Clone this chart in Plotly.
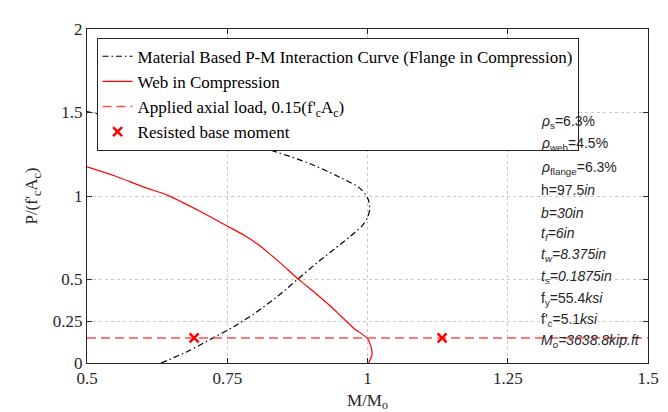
import plotly.graph_objects as go

# Material Based P-M interaction curve (flange in compression)
pm_m = [0.632, 0.68, 0.72, 0.76, 0.80, 0.84, 0.875, 0.91, 0.94, 0.97, 0.99, 1.0, 1.004, 1.0, 0.985, 0.952, 0.90, 0.834, 0.75, 0.70, 0.60, 0.5]
pm_p = [0.0, 0.07, 0.142, 0.215, 0.30, 0.40, 0.50, 0.60, 0.68, 0.76, 0.82, 0.87, 0.93, 0.99, 1.05, 1.11, 1.19, 1.267, 1.335, 1.375, 1.44, 1.505]

# Web in compression
web_m = [0.5, 0.55, 0.60, 0.644, 0.703, 0.75, 0.78, 0.804, 0.825, 0.845, 0.875, 0.893, 0.94, 0.952, 0.975, 1.0, 1.006, 1.008, 1.002]
web_p = [1.175, 1.12, 1.055, 1.004, 0.906, 0.82, 0.765, 0.712, 0.655, 0.598, 0.507, 0.458, 0.322, 0.283, 0.21, 0.146, 0.10, 0.05, 0.0]

# Applied axial load
load_m = [0.5, 1.5]
load_p = [0.15, 0.15]

# Resisted base moments
res_m = [0.691, 1.133]
res_p = [0.15, 0.15]

x_ticks = [0.5, 0.75, 1, 1.25, 1.5]
x_labels = ["0.5", "0.75", "1", "1.25", "1.5"]
y_ticks = [0, 0.25, 0.5, 1, 1.5, 2]
y_labels = ["0", "0.25", "0.5", "1", "1.5", "2"]

info_lines = [
    "<i>ρ</i><sub>s</sub>=6.3%",
    "<i>ρ</i><sub>web</sub>=4.5%",
    "<i>ρ</i><sub>flange</sub>=6.3%",
    "h=97.5<i>in</i>",
    "<i>b=30in</i>",
    "<i>t<sub>f</sub>=6in</i>",
    "<i>t<sub>w</sub>=8.375in</i>",
    "<i>t<sub>s</sub>=0.1875in</i>",
    "f<sub>y</sub>=55.4<i>ksi</i>",
    "f'<sub>c</sub>=5.1<i>ksi</i>",
    "<i>M<sub>o</sub>=3638.8kip.ft</i>",
]
info_y = [1.445, 1.31, 1.17, 1.035, 0.90, 0.77, 0.645, 0.515, 0.385, 0.255, 0.13]

serif = "Liberation Serif"
sans = "Liberation Sans"

fig = go.Figure()
fig.add_trace(go.Scatter(x=pm_m, y=pm_p, mode="lines", name="Material Based P-M Interaction Curve (Flange in Compression)",
                         line=dict(color="black", width=1.2, dash="6px,3px,1.5px,3px", shape="spline", smoothing=0.8)))
fig.add_trace(go.Scatter(x=web_m, y=web_p, mode="lines", name="Web in Compression",
                         line=dict(color="#ff0000", width=1.2, shape="spline", smoothing=0.8)))
fig.add_trace(go.Scatter(x=load_m, y=load_p, mode="lines", name="Applied axial load, 0.15(f'<sub>c</sub>A<sub>c</sub>)",
                         line=dict(color="#ff5050", width=1.6, dash="9px,5px")))
fig.add_trace(go.Scatter(x=res_m, y=res_p, mode="markers", name="Resisted base moment",
                         marker=dict(symbol="x-thin", size=9, color="#ff0000", line=dict(color="#ff0000", width=2.5))))

for txt, yy in zip(info_lines, info_y):
    fig.add_annotation(x=1.305, y=yy, xref="x", yref="y", text=txt, showarrow=False,
                       xanchor="left", yanchor="middle", font=dict(family=sans, size=14, color="#262626"))

axis_common = dict(showline=True, linecolor="#262626", linewidth=1, mirror="ticks", ticks="inside",
                   ticklen=5, tickcolor="#262626", showgrid=True, gridcolor="#c8c8c8", griddash="dot",
                   gridwidth=1, zeroline=False, tickfont=dict(family=serif, size=17, color="#262626"))

fig.update_layout(
    width=668, height=412,
    margin=dict(l=79, r=28, t=13, b=57),
    paper_bgcolor="white", plot_bgcolor="white",
    xaxis=dict(range=[0.5, 1.5], tickvals=x_ticks, ticktext=x_labels,
               title=dict(text="M/M<sub>o</sub>", font=dict(family=serif, size=17, color="#262626"), standoff=6),
               **axis_common),
    yaxis=dict(range=[0, 2], tickvals=y_ticks, ticktext=y_labels,
               title=dict(text="P/(f'<sub>c</sub>A<sub>c</sub>)", font=dict(family=serif, size=17, color="#262626"), standoff=10),
               **axis_common),
    legend=dict(x=0.017, y=0.974, xanchor="left", yanchor="top", bgcolor="white",
                bordercolor="#262626", borderwidth=1, font=dict(family=serif, size=17, color="black"),
                tracegroupgap=0, itemwidth=30),
    showlegend=True,
)

fig.write_html("out.html")
